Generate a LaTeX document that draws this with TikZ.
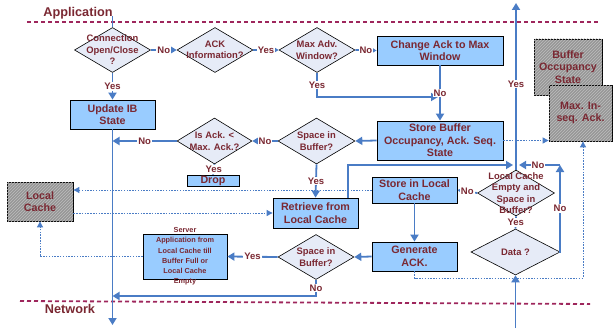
\documentclass[tikz,border=0pt]{standalone}
\usepackage{fontspec}
\setmainfont{Liberation Sans}
\usetikzlibrary{shapes.geometric, arrows.meta, patterns}
\definecolor{txtred}{RGB}{122,40,50}
\definecolor{flowblue}{RGB}{74,124,197}
\definecolor{boxblue}{RGB}{153,204,255}
\definecolor{decfill}{RGB}{230,235,247}
\definecolor{layerred}{RGB}{158,38,92}
\definecolor{storegray}{RGB}{150,150,150}
\definecolor{hatchgray}{RGB}{190,190,190}

\begin{document}
\begin{tikzpicture}[x=1pt, y=-1pt,
  every node/.style={text=txtred, font=\bfseries},
  box/.style={draw, line width=0.8pt, fill=boxblue, align=center, inner sep=0pt, font=\fontsize{10.7}{12.5}\selectfont\bfseries},
  store/.style={draw, line width=0.8pt, fill=storegray, postaction={pattern=north east lines, pattern color=hatchgray}, align=center, inner sep=0pt, font=\fontsize{10.7}{12.5}\selectfont\bfseries},
  dec/.style={diamond, draw, line width=0.6pt, fill=decfill, inner sep=0pt, minimum width=76, minimum height=45},
  dtxt/.style={align=center, inner sep=0pt, font=\fontsize{9.4}{11.5}\selectfont\bfseries},
  stxt/.style={align=center, inner sep=0pt, font=\fontsize{7.3}{10.2}\selectfont\bfseries},
  lbl/.style={fill=white, inner sep=1pt, font=\fontsize{9.5}{10}\selectfont\bfseries},
  flow/.style={draw=flowblue, line width=1.8pt, -{Triangle[length=7pt,width=8pt]}},
  link/.style={draw=flowblue, line width=1.8pt},
  info/.style={draw=flowblue, line width=0.9pt, dash pattern=on 1.5pt off 1.3pt, -{Triangle[length=6pt,width=6pt]}},
  layer/.style={draw=layerred, line width=1.8pt, dash pattern=on 4pt off 3pt}]
\useasboundingbox (0,0) rectangle (615,329);

\draw[layer] (27,22) -- (598,22);
\draw[layer] (20,301) -- (590,304);
\node[font=\fontsize{12.7}{14}\selectfont\bfseries] (apptitle) at (78,13) {Application};
\node[font=\fontsize{12.7}{14}\selectfont\bfseries] (nettitle) at (70,309) {Network};

\node[dec, label={[dtxt]center:{Connection\\Open/Close\\?}}] (conn) at (112.5,50) {};
\node[dec, label={[dtxt]center:{ACK\\Information?}}] (ackinfo) at (215,50) {};
\node[dec, label={[dtxt]center:{Max Adv.\\Window?}}] (maxadv) at (317,50) {};
\node[box, minimum width=126, minimum height=29] (chgack) at (440,50.5) {Change Ack to Max\\Window};
\node[box, minimum width=85, minimum height=29] (updib) at (112.5,114.5) {Update IB\\State};
\node[store, minimum width=68, minimum height=56] (bufocc) at (568,67) {Buffer\\Occupancy\\State};
\node[store, minimum width=63, minimum height=56] (maxinseq) at (580.5,113) {Max. In-\\seq. Ack.};
\node[box, minimum width=126, minimum height=39] (storebuf) at (440,140.5) {Store Buffer\\Occupancy, Ack. Seq.\\State};
\node[dec, minimum width=77, minimum height=46, label={[dtxt]center:{Space in\\Buffer?}}] (spacea) at (316.5,141) {};
\node[dec, minimum width=75, minimum height=46, label={[dtxt]center:{Is Ack. <\\Max. Ack.?}}] (isack) at (214.5,141) {};
\node[box, minimum width=52, minimum height=11] (drop) at (213,180.5) {Drop};
\node[box, minimum width=85, minimum height=30] (retrieve) at (315.5,213) {Retrieve from\\Local Cache};
\node[store, minimum width=66, minimum height=39] (lcache) at (40,201.5) {Local\\Cache};
\node[box, minimum width=85, minimum height=26] (storelc) at (414.5,190) {Store in Local\\Cache};
\node[dec, minimum width=77, minimum height=46, label={[dtxt]center:{Local Cache\\Empty and\\Space in\\Buffer?}}] (lcempty) at (516,193) {};
\node[dec, minimum width=89, minimum height=46, label={[dtxt]center:{Data ?}}] (data) at (515.5,252) {};
\node[box, minimum width=85, minimum height=29] (genack) at (414.5,256.5) {Generate\\ACK.};
\node[dec, label={[dtxt]center:{Space in\\Buffer?}}] (spaceb) at (316,257) {};
\node[box, minimum width=84, minimum height=45, label={[stxt]center:{Server\\Application from\\Local Cache till\\Buffer Full or\\Local Cache\\Empty}}] (server) at (185,256.5) {};

\coordinate (apptop) at (112.5,16);
\coordinate (netout) at (112.5,325);
\coordinate (upout) at (516,3);
\coordinate (junc) at (516,165);
\coordinate (nocorner) at (560,165);
\coordinate (yesjoin) at (438,97);
\coordinate (nojoin) at (112.5,296);
\coordinate (netin) at (515.5,328);
\coordinate (dotcorner) at (583,278);

\draw[info] (storelc.west) -- (storelc.west -| lcache.east);
\draw[info] (lcache.east |- retrieve.west) -- (retrieve.west);
\draw[info] (server.west) -| (lcache.south);
\draw[info] (storebuf.east) -- (storebuf.east -| maxinseq.west);
\draw[info] (genack.south) |- (dotcorner) -- (dotcorner |- maxinseq.south);

\draw[link] (apptop) -- (conn.north);
\draw[flow] (conn.east) -- node[lbl] {No} (ackinfo.west);
\draw[flow] (conn.south) -- node[lbl] {Yes} (updib.north);
\draw[flow] (ackinfo.east) -- node[lbl] {Yes} (maxadv.west);
\draw[flow] (maxadv.east) -- node[lbl] {No} (chgack.west);
\draw[flow] (maxadv.south) |- node[lbl, pos=0.25] {Yes} (yesjoin);
\draw[flow] (chgack.south) -- node[lbl] {No} (storebuf.north);
\draw[flow] (storebuf.west) -- (spacea.east);
\draw[flow] (spacea.west) -- node[lbl] {No} (isack.east);
\draw[flow] (isack.west) -- node[lbl] {No} (isack.west -| updib.south);
\draw[link] (isack.south) -- node[lbl] {Yes} (drop.north);
\draw[flow] (spacea.south) -- node[lbl] {Yes} (retrieve.north);
\draw[flow, shorten >=3pt] ([xshift=32.5pt]retrieve.north) |- (junc);
\draw[flow] (lcempty.north) -- (junc) -- node[lbl] {Yes} (upout);
\draw[flow] (data.east) -| node[lbl, pos=0.75] {No} (nocorner);
\draw[flow, shorten >=3pt] (nocorner) -- node[lbl] {No} (junc);
\draw[link] (data.north) -- node[lbl] {Yes} (lcempty.south);
\draw[flow] (lcempty.west) -- node[lbl] {No} (storelc.east);
\draw[flow] (storelc.south) -- (genack.north);
\draw[flow] (genack.west) -- (spaceb.east);
\draw[flow] (spaceb.west) -- node[lbl] {Yes} (server.east);
\draw[flow] (spaceb.south) |- node[lbl, pos=0.25] {No} (nojoin);
\draw[flow] (updib.south) -- (netout);
\draw[flow] (netin) -- (data.south);
\end{tikzpicture}
\end{document}
